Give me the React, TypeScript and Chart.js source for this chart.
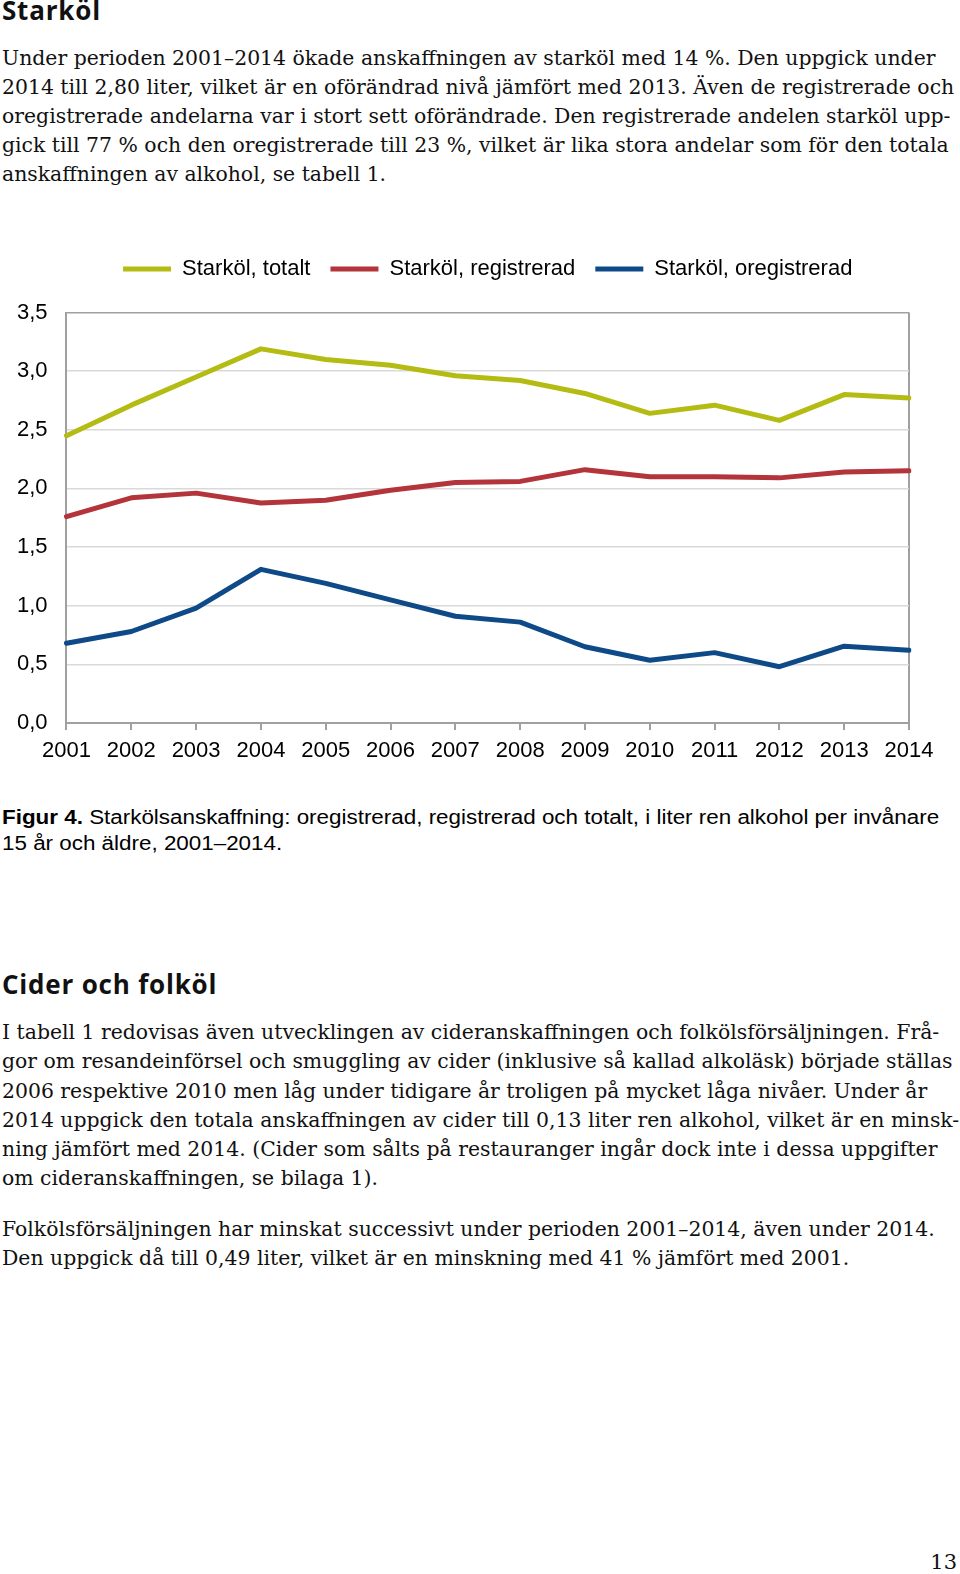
import React, { useEffect, useRef } from 'react';
import { Chart, registerables } from 'chart.js';

Chart.register(...registerables);

// ---- Chart data ----
const years = ['2001', '2002', '2003', '2004', '2005', '2006', '2007', '2008', '2009', '2010', '2011', '2012', '2013', '2014'];
const totalt = [2.45, 2.71, 2.95, 3.19, 3.10, 3.05, 2.96, 2.92, 2.81, 2.64, 2.71, 2.58, 2.80, 2.77];
const registrerad = [1.76, 1.92, 1.96, 1.875, 1.90, 1.985, 2.05, 2.06, 2.16, 2.10, 2.10, 2.09, 2.14, 2.15];
const oregistrerad = [0.68, 0.78, 0.98, 1.31, 1.19, 1.05, 0.91, 0.86, 0.65, 0.535, 0.60, 0.48, 0.655, 0.62];
const seriesLabels = ['Starköl, totalt', 'Starköl, registrerad', 'Starköl, oregistrerad'];
const seriesColors = ['#b4bc14', '#b3343b', '#0f4a88'];
const yMin = 0;
const yMax = 3.5;
const yStep = 0.5;

// ---- Page text ----
const heading1 = 'Starköl';
const para1 = [
  'Under perioden 2001–2014 ökade anskaffningen av starköl med 14 %. Den uppgick under',
  '2014 till 2,80 liter, vilket är en oförändrad nivå jämfört med 2013. Även de registrerade och',
  'oregistrerade andelarna var i stort sett oförändrade. Den registrerade andelen starköl upp-',
  'gick till 77 % och den oregistrerade till 23 %, vilket är lika stora andelar som för den totala',
  'anskaffningen av alkohol, se tabell 1.',
];
const captionBold = 'Figur 4.';
const captionLine1 = ' Starkölsanskaffning: oregistrerad, registrerad och totalt, i liter ren alkohol per invånare';
const captionLine2 = '15 år och äldre, 2001–2014.';
const heading2 = 'Cider och folköl';
const para2 = [
  'I tabell 1 redovisas även utvecklingen av cideranskaffningen och folkölsförsäljningen. Frå-',
  'gor om resandeinförsel och smuggling av cider (inklusive så kallad alkoläsk) började ställas',
  '2006 respektive 2010 men låg under tidigare år troligen på mycket låga nivåer. Under år',
  '2014 uppgick den totala anskaffningen av cider till 0,13 liter ren alkohol, vilket är en minsk-',
  'ning jämfört med 2014. (Cider som sålts på restauranger ingår dock inte i dessa uppgifter',
  'om cideranskaffningen, se bilaga 1).',
];
const para3 = [
  'Folkölsförsäljningen har minskat successivt under perioden 2001–2014, även under 2014.',
  'Den uppgick då till 0,49 liter, vilket är en minskning med 41 % jämfört med 2001.',
];
const pageNumber = '13';

const SERIF = "'DejaVu Serif', serif";
const SANS = "'Liberation Sans', Arial, sans-serif";
const HEAD = "'Open Sans', 'DejaVu Sans', sans-serif";
const BODY_SIZE = 20.4;
const CHART_FONT = 22;

function Lines({ lines, top, lineHeight }: { lines: string[]; top: number; lineHeight: number }) {
  return (
    <div style={{ position: 'absolute', left: 2, top, fontFamily: SERIF, fontSize: BODY_SIZE, lineHeight: lineHeight + 'px', color: '#111', whiteSpace: 'pre' }}>
      {lines.map((l, i) => (
        <div key={i} style={{ height: lineHeight }}>{l}</div>
      ))}
    </div>
  );
}

function StarkolChart() {
  const ref = useRef<HTMLCanvasElement | null>(null);
  useEffect(() => {
    if (!ref.current) return;
    const gridGrey = '#d9d9d9';
    const axisGrey = '#a0a0a0';
    const chart = new Chart(ref.current, {
      type: 'line',
      data: {
        labels: years,
        datasets: [totalt, registrerad, oregistrerad].map((d, i) => ({
          label: seriesLabels[i],
          data: d,
          borderColor: seriesColors[i],
          backgroundColor: seriesColors[i],
          borderWidth: 5,
          borderCapStyle: 'round' as const,
          borderJoinStyle: 'round' as const,
          pointRadius: 0,
          pointHoverRadius: 0,
          pointStyle: 'line' as const,
          tension: 0,
          fill: false,
        })),
      },
      options: {
        responsive: false,
        animation: false,
        devicePixelRatio: 1,
        layout: { padding: { top: 8, left: 0.9, right: 48, bottom: 7.6 } },
        font: { family: SANS },
        plugins: {
          tooltip: { enabled: false },
          legend: {
            display: true,
            position: 'top',
            fullSize: false,
            labels: {
              usePointStyle: true,
              pointStyle: 'line',
              pointStyleWidth: 48,
              padding: 20,
              color: '#000',
              font: { family: SANS, size: CHART_FONT },
            },
          },
          subtitle: {
            display: true,
            text: '',
            position: 'top',
            weight: 500,
            font: { size: 10, lineHeight: 1.2 },
            padding: { top: 0, bottom: 10.5 },
          },
        },
        scales: {
          x: {
            type: 'category',
            offset: false,
            border: { display: true, color: axisGrey, width: 2 },
            grid: {
              display: true,
              drawOnChartArea: true,
              drawTicks: true,
              tickLength: 7,
              tickColor: axisGrey,
              tickWidth: 2,
              lineWidth: 2,
              color: (ctx: any) => (ctx.index === years.length - 1 ? axisGrey : 'rgba(0,0,0,0)'),
            },
            ticks: {
              color: '#000',
              font: { family: SANS, size: CHART_FONT },
              padding: 8,
              maxRotation: 0,
              autoSkip: false,
            },
          },
          y: {
            min: yMin,
            max: yMax,
            border: { display: true, color: axisGrey, width: 2 },
            grid: {
              drawTicks: false,
              lineWidth: 1.5,
              color: (ctx: any) => (ctx.tick && ctx.tick.value === yMax ? axisGrey : gridGrey),
            },
            ticks: {
              stepSize: yStep,
              color: '#000',
              font: { family: SANS, size: CHART_FONT },
              padding: 19,
              callback: (v: any) => Number(v).toFixed(1).replace('.', ','),
            },
          },
        },
      },
    });
    return () => chart.destroy();
  }, []);
  return <canvas ref={ref} width={960} height={550} style={{ position: 'absolute', left: -3, top: 230, width: 960, height: 550 }} />;
}

export default function App() {
  const headStyle: React.CSSProperties = { position: 'absolute', left: 2, fontFamily: HEAD, fontWeight: 700, fontSize: 26, letterSpacing: '0.8px', lineHeight: '35.4px', color: '#111', whiteSpace: 'pre' };
  return (
    <div style={{ position: 'absolute', left: 0, top: 0, width: 960, height: 1574, overflow: 'hidden', background: '#fff' }}>
      <div style={{ ...headStyle, top: -7.1 }}>{heading1}</div>
      <Lines lines={para1} top={44.4} lineHeight={29} />
      <StarkolChart />
      <div style={{ position: 'absolute', left: 2, top: 805.3, fontFamily: SANS, fontSize: 20, lineHeight: '25.5px', color: '#000', whiteSpace: 'pre', transform: 'scaleX(1.12)', transformOrigin: '0 0' }}>
        <div><b>{captionBold}</b>{captionLine1}</div>
        <div>{captionLine2}</div>
      </div>
      <div style={{ ...headStyle, top: 967.2 }}>{heading2}</div>
      <Lines lines={para2} top={1018.4} lineHeight={29.1} />
      <Lines lines={para3} top={1215.1} lineHeight={29.1} />
      <div style={{ position: 'absolute', left: 0, width: 957, top: 1550.2, textAlign: 'right', fontFamily: SERIF, fontSize: 21, lineHeight: '25px', color: '#111' }}>{pageNumber}</div>
    </div>
  );
}
